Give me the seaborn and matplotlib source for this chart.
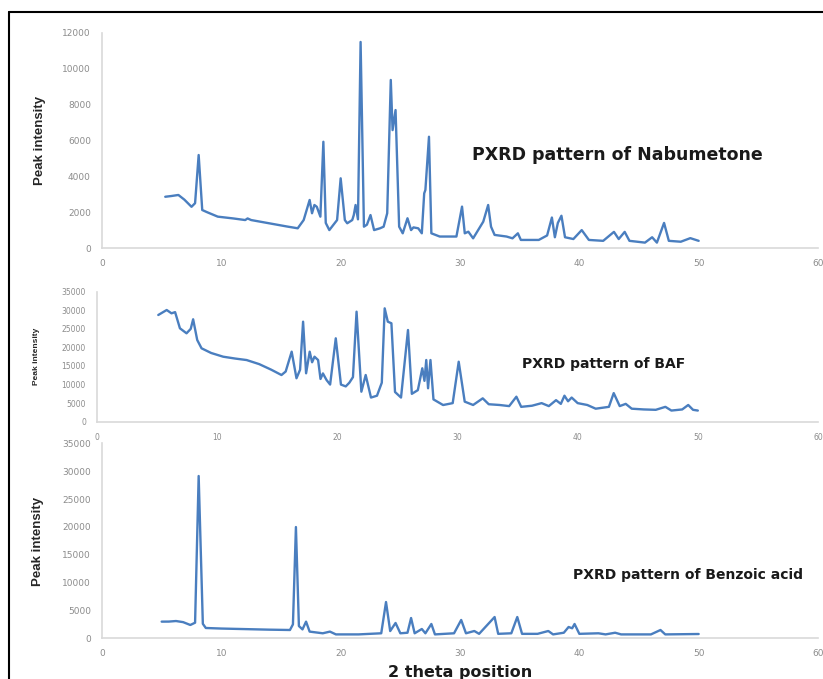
import seaborn as sns
import matplotlib.pyplot as plt
from matplotlib.lines import Line2D

# --- data (2 theta, intensity) ---
nab_x = [5.3, 5.8, 6.4, 6.9, 7.5, 7.8, 8.1, 8.4, 8.8, 9.7, 11.0, 12.0, 12.2, 12.5, 14.0, 15.5,
         16.4, 16.9, 17.4, 17.6, 17.8, 18.0, 18.3, 18.55, 18.75, 19.05, 19.7, 20.0, 20.35, 20.55,
         20.97, 21.1, 21.25, 21.45, 21.67, 21.95, 22.2, 22.5, 22.8, 23.3, 23.6, 23.9, 24.2, 24.35,
         24.6, 24.9, 25.2, 25.6, 25.9, 26.1, 26.5, 26.8, 27.0, 27.1, 27.4, 27.6, 28.3, 29.7,
         30.17, 30.4, 30.7, 31.1, 31.95, 32.36, 32.6, 32.9, 33.9, 34.4, 34.85, 35.1, 36.6, 37.3,
         37.7, 37.95, 38.2, 38.5, 38.8, 39.5, 40.2, 40.8, 42.0, 42.9, 43.3, 43.8, 44.2, 45.5,
         46.1, 46.5, 47.1, 47.5, 48.5, 49.3, 50.0]
nab_y = [2860, 2900, 2960, 2700, 2300, 2500, 5190, 2120, 2000, 1750, 1650, 1560, 1650, 1560, 1380, 1200,
         1100, 1560, 2680, 1940, 2400, 2300, 1750, 5930, 1400, 1000, 1560, 3890, 1560, 1380,
         1560, 1840, 2400, 1600, 11500, 1190, 1300, 1840, 1000, 1100, 1190, 1940, 9380, 6580,
         7700, 1190, 820, 1660, 1000, 1150, 1100, 820, 3050, 3240, 6210, 820, 640, 640,
         2310, 820, 910, 540, 1470, 2400, 1190, 730, 640, 540, 820, 450, 450, 700,
         1700, 600, 1400, 1800, 600, 500, 1000, 450, 400, 900, 500, 900, 400, 300,
         600, 300, 1400, 400, 350, 550, 400]

baf_x = [5.1, 5.5, 5.8, 6.2, 6.5, 6.9, 7.45, 7.8, 8.0, 8.34, 8.7, 9.5, 10.5, 11.5, 12.45, 13.5,
         14.5, 15.35, 15.7, 16.2, 16.6, 16.9, 17.15, 17.4, 17.7, 17.9, 18.1, 18.4, 18.6, 18.8,
         19.1, 19.4, 19.87, 20.3, 20.7, 21.0, 21.3, 21.6, 22.0, 22.36, 22.8, 23.3, 23.7, 23.94,
         24.2, 24.5, 24.8, 25.3, 25.88, 26.2, 26.7, 27.07, 27.25, 27.4, 27.55, 27.75, 28.0, 28.8,
         29.6, 30.1, 30.6, 31.3, 32.1, 32.6, 33.5, 34.3, 34.9, 35.3, 36.2, 37.0, 37.6, 38.2,
         38.6, 38.9, 39.2, 39.5, 40.0, 40.8, 41.5, 42.6, 43.0, 43.5, 44.0, 44.5, 45.5, 46.5,
         47.3, 47.8, 48.7, 49.2, 49.6, 50.0]
baf_y = [28730, 29500, 30070, 29180, 29500, 25150, 23800, 25000, 27570, 22000, 19760, 18500, 17500, 17000, 16600, 15500,
         14000, 12570, 13500, 18850, 11690, 14000, 26930, 13030, 18850, 16000, 17500, 16600, 11500, 13000,
         11230, 10000, 22450, 10000, 9500, 10500, 12000, 29620, 8080, 12570, 6500, 7000, 10500, 30520,
         26930, 26500, 8000, 6500, 24690, 7500, 8500, 14380, 11000, 16610, 9000, 16610, 6000, 4490,
         5000, 16150, 5400, 4500, 6290, 4700, 4500, 4200, 6730, 4000, 4300, 5000, 4200, 5800,
         4800, 7000, 5500, 6500, 5000, 4500, 3500, 4000, 7700, 4200, 4800, 3500, 3300, 3200,
         4000, 3000, 3300, 4500, 3200, 3000]

benz_x = [5.0, 5.6, 6.2, 6.8, 7.4, 7.8, 8.1, 8.45, 8.7, 10.0, 12.0, 14.0, 15.75, 16.0, 16.25, 16.5,
          16.8, 17.1, 17.4, 18.5, 19.1, 19.6, 21.5, 23.4, 23.8, 24.15, 24.6, 25.0, 25.6, 25.9,
          26.2, 26.8, 27.1, 27.6, 27.9, 29.5, 30.1, 30.5, 31.2, 31.6, 32.9, 33.2, 34.3, 34.8,
          35.2, 36.5, 37.4, 37.8, 38.7, 39.1, 39.4, 39.6, 40.0, 41.6, 42.2, 43.0, 43.5, 46.0,
          46.8, 47.2, 50.0]
benz_y = [2990, 3000, 3100, 2900, 2390, 2800, 29130, 2600, 1850, 1750, 1650, 1550, 1490, 2500, 19970, 2200,
          1600, 2990, 1200, 900, 1200, 700, 700, 900, 6510, 1300, 2750, 900, 1000, 3640,
          900, 1670, 900, 2570, 700, 900, 3290, 900, 1310, 800, 3820, 800, 900, 3820,
          800, 800, 1310, 700, 1000, 2030, 1800, 2570, 800, 900, 700, 1000, 700, 700,
          1490, 700, 770]

x_ticks = [0, 10, 20, 30, 40, 50, 60]
nab_ticks = [0, 2000, 4000, 6000, 8000, 10000, 12000]
wide_ticks = [0, 5000, 10000, 15000, 20000, 25000, 30000, 35000]

sns.set_theme(style="white")
line_color = "#4a7ebf"
grey = "#8c8c8c"

W, H = 823, 679
fig = plt.figure(figsize=(W / 100, H / 100), dpi=100)


def px_axes(left, right, top, bottom):
    return fig.add_axes([left / W, 1 - bottom / H, (right - left) / W, (bottom - top) / H])


panels = [
    # (x, y, yticks, box, tick size, label size, label pos, title, title pos, title size)
    (nab_x, nab_y, nab_ticks, (102, 818, 33, 248), 6.5, 9.5, (40, 140),
     "PXRD pattern of Nabumetone", (472, 155), 12.5),
    (baf_x, baf_y, wide_ticks, (97, 818, 291.7, 421.7), 5.5, 6, (36, 356),
     "PXRD pattern of BAF", (522, 364), 10),
    (benz_x, benz_y, wide_ticks, (102, 818, 443.3, 638.3), 6.5, 9.5, (38, 541),
     "PXRD pattern of Benzoic acid", (573, 575), 10),
]

for xs, ys, yt, box, tsize, lsize, lpos, title, tpos, tfs in panels:
    ax = px_axes(*box)
    sns.lineplot(x=xs, y=ys, ax=ax, color=line_color, linewidth=1.7, estimator=None)
    ax.set_xlim(0, 60)
    ax.set_ylim(0, yt[-1])
    ax.set_xticks(x_ticks)
    ax.set_yticks(yt)
    ax.tick_params(length=0, labelsize=tsize, labelcolor=grey, pad=8)
    for side in ["top", "right"]:
        ax.spines[side].set_visible(False)
    for side in ["left", "bottom"]:
        ax.spines[side].set_color("#d9d9d9")
        ax.spines[side].set_linewidth(1.2)
    ax.set_facecolor("none")
    fig.text(lpos[0] / W, 1 - lpos[1] / H, "Peak intensity", rotation=90, fontsize=lsize,
             fontweight="bold", ha="center", va="center",
             family=["Liberation Sans Narrow", "Liberation Sans", "DejaVu Sans"])
    fig.text(tpos[0] / W, 1 - tpos[1] / H, title, fontsize=tfs, fontweight="bold",
             ha="left", va="center", color="#1a1a1a")

fig.text(460 / W, 1 - 672 / H, "2 theta position", fontsize=11.5, fontweight="bold",
         ha="center", va="center", color="#1a1a1a")

# frame lines at top and left like the cropped source
fig.add_artist(Line2D([9 / W, 1], [1 - 12 / H, 1 - 12 / H], transform=fig.transFigure,
                      color="black", linewidth=1.5))
fig.add_artist(Line2D([9 / W, 9 / W], [0, 1 - 12 / H], transform=fig.transFigure,
                      color="black", linewidth=1.5))

fig.savefig("out.png", dpi=100)
